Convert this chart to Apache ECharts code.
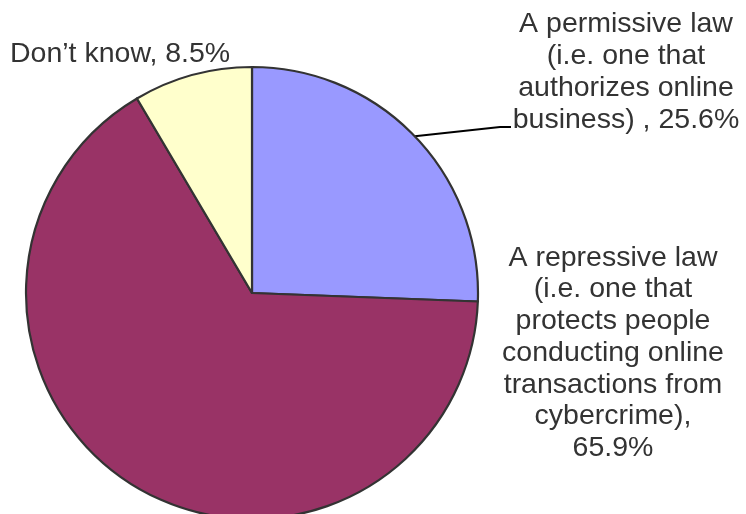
<!DOCTYPE html>
<html>
<head>
<meta charset="utf-8">
<script src="https://cdn.jsdelivr.net/npm/echarts@6/dist/echarts.min.js"></script>
<style>
  html, body { margin: 0; padding: 0; background: #ffffff; }
  #chart { width: 746px; height: 514px; }
</style>
</head>
<body>
<div id="chart"></div>
<script>
// Survey answers: which kind of law is preferred for online commerce
const categories = [
  'A permissive law\n(i.e. one that\nauthorizes online\nbusiness) ',
  'A repressive law\n(i.e. one that\nprotects people\nconducting online\ntransactions from\ncybercrime)',
  'Don\u2019t know'
];
const separators = [', ', ',\n', ', '];
const shares = [25.6, 65.9, 8.5];
const colors = ['#9999ff', '#993366', '#ffffcc'];

// Where each label block sits (centre x / middle y, or left x for left-aligned)
const labelSpots = [
  { x: 626, y: 72, align: 'center', lineHeight: 32, bend: [[500, 127], [511, 127]] },
  { x: 613, y: 353, align: 'center', lineHeight: 31.7 },
  { x: 10, y: 54, align: 'left', lineHeight: 32 }
];

const chart = echarts.init(document.getElementById('chart'), null, { renderer: 'canvas' });

const data = categories.map((name, i) => ({
  name: name,
  value: shares[i],
  itemStyle: { color: colors[i] },
  label: { align: labelSpots[i].align, lineHeight: labelSpots[i].lineHeight },
  labelLine: { show: !!labelSpots[i].bend }
}));

chart.setOption({
  animation: false,
  backgroundColor: '#ffffff',
  series: [{
    type: 'pie',
    center: [252, 293],
    radius: 226,
    startAngle: 90,
    clockwise: true,
    avoidLabelOverlap: false,
    data: data,
    itemStyle: { borderColor: '#333333', borderWidth: 2.2 },
    label: {
      show: true,
      position: 'outside',
      color: '#333333',
      fontFamily: 'Liberation Sans, Arial, sans-serif',
      fontSize: 28.5,
      formatter: p => p.name + separators[p.dataIndex] + shares[p.dataIndex].toFixed(1) + '%'
    },
    labelLine: {
      lineStyle: { color: '#000000', width: 2 }
    },
    labelLayout: function (params) {
      const s = labelSpots[params.dataIndex];
      const out = { x: s.x, y: s.y, align: s.align, verticalAlign: 'middle' };
      if (s.bend && params.labelLinePoints) {
        out.labelLinePoints = [params.labelLinePoints[0]].concat(s.bend);
      }
      return out;
    },
    emphasis: { disabled: true }
  }]
});
</script>
</body>
</html>
